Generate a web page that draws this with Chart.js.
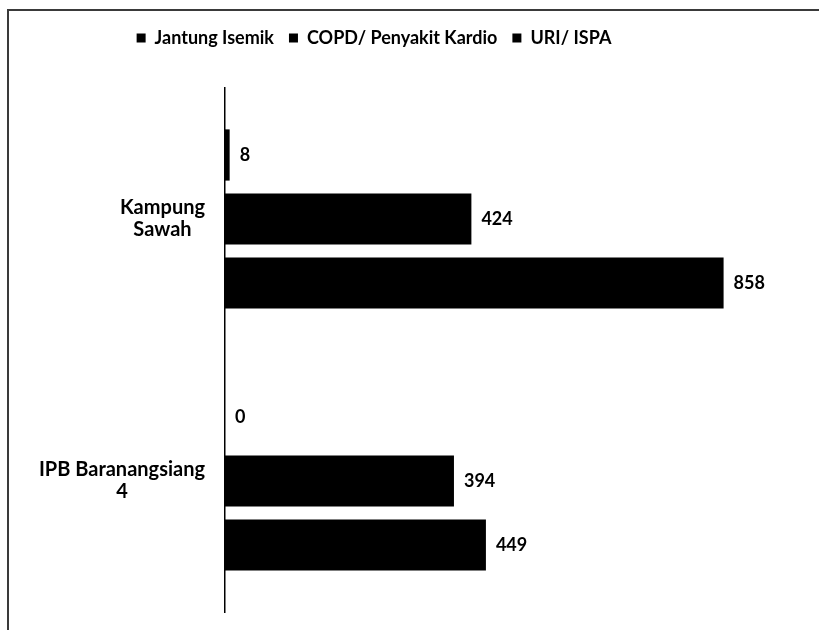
<!DOCTYPE html>
<html>
<head>
<meta charset="utf-8">
<script src="https://cdn.jsdelivr.net/npm/chart.js@4"></script>
<style>
  html, body { margin: 0; padding: 0; background: #fff; }
  #wrap { width: 819px; height: 630px; }
</style>
</head>
<body>
<div id="wrap"><canvas id="c" width="819" height="630"></canvas></div>
<script>
// Categories (multi-line labels) and series values
const categories = [['Kampung', 'Sawah'], ['IPB Baranangsiang', '4']];
const seriesNames = ['Jantung Isemik', 'COPD/ Penyakit Kardio', 'URI/ ISPA'];
const jantungIsemik = [8, 0];
const copdPenyakitKardio = [424, 394];
const uriIspa = [858, 449];
const axisMax = 900;

const FONT = 'Lato, "Open Sans", sans-serif';

// Outer frame: top and left edge lines
const framePlugin = {
  id: 'frame',
  beforeDraw(chart) {
    const ctx = chart.ctx;
    ctx.save();
    ctx.fillStyle = '#fff';
    ctx.fillRect(0, 0, chart.width, chart.height);
    ctx.strokeStyle = '#3a3a3a';
    ctx.lineWidth = 2;
    ctx.beginPath();
    ctx.moveTo(8, chart.height);
    ctx.lineTo(8, 10);
    ctx.lineTo(chart.width, 10);
    ctx.stroke();
    ctx.restore();
  }
};

// Fixed legend band height so the plot area starts lower
const legendHeightPlugin = {
  id: 'legendHeight',
  afterInit(chart) {
    const lg = chart.legend;
    if (!lg) return;
    const fit = lg.fit;
    lg.fit = function () {
      fit.call(this);
      this.height = 74;
    };
  }
};

// Category labels: block right-aligned near the axis, lines centred in the block
const categoryLabelPlugin = {
  id: 'categoryLabels',
  afterDraw(chart) {
    const ctx = chart.ctx;
    const y = chart.scales.y;
    ctx.save();
    ctx.font = 'bold 20px ' + FONT;
    ctx.fillStyle = '#000';
    ctx.textAlign = 'center';
    ctx.textBaseline = 'middle';
    const lineH = 22;
    chart.data.labels.forEach((lines, i) => {
      const arr = Array.isArray(lines) ? lines : [lines];
      const cy = y.getPixelForValue(i);
      const blockW = Math.max(...arr.map(t => ctx.measureText(t).width));
      const cx = y.right - 20 - blockW / 2;
      const startY = cy - (arr.length - 1) * lineH / 2;
      arr.forEach((t, k) => ctx.fillText(t, cx, startY + k * lineH));
    });
    ctx.restore();
  }
};

// Value labels at the end of each bar
const valueLabelPlugin = {
  id: 'valueLabels',
  afterDatasetsDraw(chart) {
    const ctx = chart.ctx;
    ctx.save();
    ctx.font = 'bold 18px ' + FONT;
    ctx.fillStyle = '#000';
    ctx.textAlign = 'left';
    ctx.textBaseline = 'middle';
    chart.data.datasets.forEach((ds, di) => {
      const meta = chart.getDatasetMeta(di);
      meta.data.forEach((bar, j) => {
        ctx.fillText(String(ds.data[j]), bar.x + 10, bar.y);
      });
    });
    ctx.restore();
  }
};

const seriesValues = [jantungIsemik, copdPenyakitKardio, uriIspa];

new Chart(document.getElementById('c'), {
  type: 'bar',
  data: {
    labels: categories,
    datasets: seriesNames.map((name, i) => ({
      label: name,
      data: seriesValues[i],
      backgroundColor: '#000',
      borderWidth: 0,
      categoryPercentage: 0.733,
      barPercentage: 0.8
    }))
  },
  options: {
    indexAxis: 'y',
    responsive: false,
    animation: false,
    layout: { padding: { left: 0, right: 71, top: 14, bottom: 18 } },
    plugins: {
      legend: {
        position: 'top',
        align: 'center',
        labels: {
          boxWidth: 9,
          boxHeight: 9,
          padding: 15,
          color: '#000',
          font: { family: FONT, weight: 'bold', size: 18 }
        }
      },
      tooltip: { enabled: false }
    },
    scales: {
      x: { display: false, min: 0, max: axisMax },
      y: {
        grid: { display: false, drawTicks: false },
        border: { display: true, color: '#000', width: 1.5 },
        ticks: { display: false },
        afterFit(scale) { scale.width = 225; }
      }
    }
  },
  plugins: [framePlugin, legendHeightPlugin, categoryLabelPlugin, valueLabelPlugin]
});
</script>
</body>
</html>
